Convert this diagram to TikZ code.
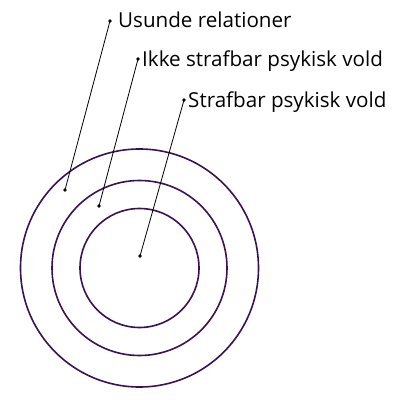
\documentclass[tikz,border=0pt]{standalone}
\usepackage{fontspec}
\setmainfont{Open Sans}
\definecolor{ringcolor}{HTML}{3A1250}

\begin{document}
\begin{tikzpicture}%
        [x=1pt,y=-1pt,
        ring/.style={color=ringcolor, line width=1.6pt},
        leader/.style={color=black, line width=0.8pt},
        vertex/.style={inner sep=0pt,minimum size=3.6pt,circle,fill=black},
        label/.style={anchor=base west,inner sep=0pt,font=\fontsize{20.6}{23}\selectfont}]
%
\useasboundingbox (0,0) rectangle (400,400);
%%
%% Coordinate of the rings and dots:
%%
\coordinate (center) at (139.5,268);
\coordinate (outerDot) at (65,190);
\coordinate (middleDot) at (99,206);
\coordinate (innerDot) at (140,256);
\coordinate (outerTop) at (110,21);
\coordinate (middleTop) at (138,59);
\coordinate (innerTop) at (184,100);
%%
%% Drawing the rings
%%
\draw[ring] (center) circle (119);
\draw[ring] (center) circle (87.5);
\draw[ring] (center) circle (59.5);
%%
%% Drawing the leaders
%%
\draw[leader] (outerDot) -- (outerTop);
\draw[leader] (middleDot) -- (middleTop);
\draw[leader] (innerDot) -- (innerTop);
%%
%% Drawing the dots
%%
\node[vertex] (a1) at (outerDot) {};
\node[vertex] (b1) at (middleDot) {};
\node[vertex] (c1) at (innerDot) {};
\node[vertex] (a2) at (outerTop) {};
\node[vertex] (b2) at (middleTop) {};
\node[vertex] (c2) at (innerTop) {};
%%
%% Labels
%%
\node[label] (usunde) at (118,27) {Usunde relationer};
\node[label] (ikke) at (142,66) {Ikke strafbar psykisk vold};
\node[label] (strafbar) at (188,107) {Strafbar psykisk vold};
\end{tikzpicture}
\end{document}
